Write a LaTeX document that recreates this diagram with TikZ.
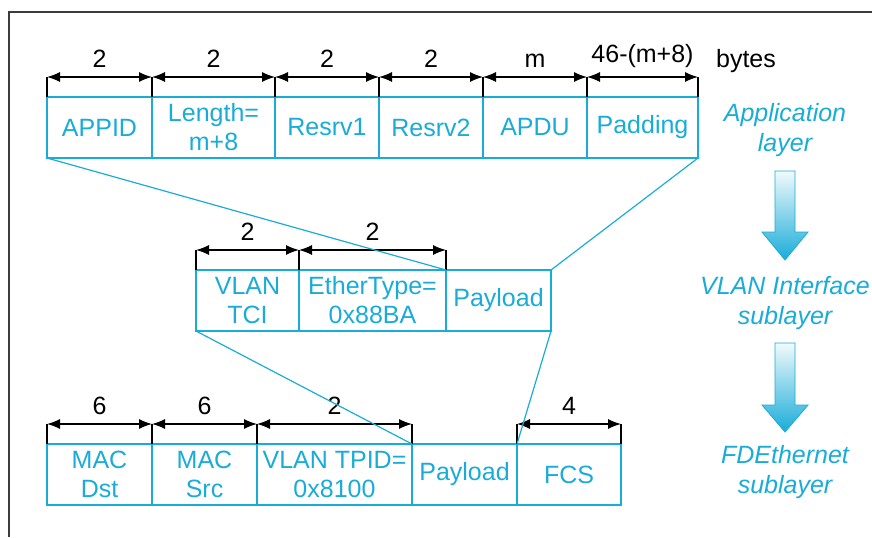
\documentclass[tikz,border=0pt]{standalone}
\usepackage{fontspec}
\setmainfont{Liberation Sans}
\usetikzlibrary{arrows.meta, calc}
\definecolor{fcyan}{RGB}{25,172,216}
\definecolor{framegray}{RGB}{60,60,60}

\begin{document}
\begin{tikzpicture}[x=0.5pt,y=-0.5pt,
  every node/.style={font=\fontsize{12.5}{14.5}\selectfont},
  field/.style={draw=fcyan, line width=0.8pt, text=fcyan, align=center, inner sep=0pt, outer sep=0pt, minimum height=30.5pt, anchor=north west},
  tick/.style={black, line width=0.6pt},
  dimarrow/.style={black, line width=0.6pt, {Latex[length=6.5pt,width=5pt]}-{Latex[length=6.5pt,width=5pt]}},
  link/.style={fcyan, line width=0.6pt},
  layer/.style={text=fcyan, align=center, font=\fontsize{12.5}{15}\selectfont\itshape},
  blockarrow/.style={draw=fcyan, line width=0.4pt, top color=fcyan!6, bottom color=fcyan}]
  \useasboundingbox (0,0) rectangle (872,537);
  \draw[framegray, line width=0.7pt] (9,537) -- (9,12) -- (872,12);
  % application layer
  \foreach \n/\x/\w/\t in {appid/47/105/APPID, len/152/123/{Length=\\m+8}, rsv1/275/104/Resrv1, rsv2/379/104/Resrv2, apdu/483/104/APDU, pad/587/111/Padding}
    \node[field, minimum width=\w*0.5pt] (\n) at (\x,97) {\t};
  % vlan interface sublayer
  \foreach \n/\x/\w/\t in {vtci/196/103/{VLAN\\TCI}, etype/299/147/{EtherType=\\0x88BA}, vpay/446/105/Payload}
    \node[field, minimum width=\w*0.5pt] (\n) at (\x,270) {\t};
  % fdethernet sublayer
  \foreach \n/\x/\w/\t in {mdst/47/105/{MAC\\Dst}, msrc/152/105/{MAC\\Src}, tpid/257/155/{VLAN TPID=\\0x8100}, epay/412/105/Payload, fcs/517/104/FCS}
    \node[field, minimum width=\w*0.5pt] (\n) at (\x,444) {\t};
  % sizes
  \foreach \n/\l in {appid/2, len/2, rsv1/2, rsv2/2, apdu/m, pad/46-(m+8), vtci/2, etype/2, mdst/6, msrc/6, tpid/2, fcs/4}{
    \draw[tick] (\n.north west) -- ++(0,-20);
    \draw[tick] (\n.north east) -- ++(0,-20);
    \draw[dimarrow] ($(\n.north west)+(0,-20)$) -- node[above=1pt]{\l} ($(\n.north east)+(0,-20)$);
  }
  \node[anchor=base] (bytes) at (746,67) {bytes};
  % encapsulation
  \draw[link] (appid.south west) -- (etype.north east);
  \draw[link] (pad.south east) -- (vpay.north east);
  \draw[link] (vtci.south west) -- (epay.north west);
  \draw[link] (vpay.south east) -- (fcs.north west);
  % layers
  \node[layer] (applayer) at (785,130) {Application\\layer};
  \node[layer] (vlanlayer) at (785,303) {VLAN Interface\\sublayer};
  \node[layer] (fdlayer) at (785,472) {FDEthernet\\sublayer};
  \draw[blockarrow] (775,171) -- (795,171) -- (795,232) -- (808,232) -- (785,260) -- (762,232) -- (775,232) -- cycle;
  \draw[blockarrow] (775,343) -- (795,343) -- (795,405) -- (808,405) -- (785,432) -- (762,405) -- (775,405) -- cycle;
\end{tikzpicture}
\end{document}
